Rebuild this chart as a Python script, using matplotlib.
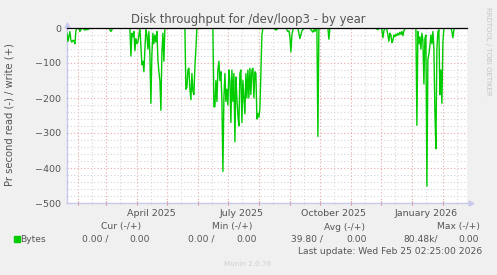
import numpy as np
import pandas as pd
import matplotlib
matplotlib.use("Agg")
import matplotlib.pyplot as plt
import matplotlib.dates as mdates
from matplotlib.transforms import blended_transform_factory

# day 0 = left edge of the graph, values are bytes/s read (drawn negative)
t0 = pd.Timestamp("2025-01-21 02:25")
t1 = pd.Timestamp("2026-02-25 02:25")
n_days = 400

burst_a = (0, [-15, -38, -25, -10, -36, -40, -35, -37, -45, -8])
burst_b = (13, [-10, -5, 0, 0, -4, -6, -3, -5, -4, -3])
burst_c = (43, [-5, -10, -5])
burst_d = (64, [-80, -15, -25, -10, -65, -30, -45, -40, -20, 0, -50, -105, -95, -125, -60, -5, -20,
                -60, -10, -75, -215, -75, -15, -45, -20, -40, -10, -90, -125, -150, -235, -70, -15, -95])
burst_e = (119, [-175, -170, -120, -115, -175, -205, -130, -180, -190, -110, -60])
burst_f = (147, [-225, -225, -150, -210, -120, -95, -150, -125, -205, -410, -200, -130, -210, -175,
                 -220, -120, -150, -270, -120, -210, -130, -325, -140, -200, -250, -280, -130, -120,
                 -270, -150, -200, -245, -130, -200, -120, -200, -115, -190, -120, -115, -200, -125,
                 -130, -260, -245, -255, -230, -120, -20])
burst_g = (208, [-3, -6, -4])
burst_h = (220, [-5, -10, -8, -25, -68, -20, -5])
burst_i = (232, [-15, -30, -20, -8, -5])
burst_j = (244, [-5, -8, -12, -5, -10])
burst_k = (251, [-310])
burst_l = (262, [-32])
burst_m = (310, [-3, -5, 0, 0, 0, -5, -28, -8, 0, 0, -5, -20, -38, -15, -20, -42, -35, -20, -25, -18,
                 -22, -15, -20, -12, -18, -10, -22, -8, -3])
burst_n = (350, [-278, -10, -45, -25, -60, -15, -35, -160, -30, -20, -452, -90, -75, -50, -20, -45,
                 -10, -60, -240, -345, -60, -10, -5, -190, -120, -215, -40])
burst_o = (385, [-10, -28, -5])

month_labels = ["April 2025", "July 2025", "October 2025", "January 2026"]
month_label_dates = ["2025-04-15", "2025-07-15", "2025-10-15", "2026-01-15"]

read = np.zeros(n_days)
for start, vals in [burst_a, burst_b, burst_c, burst_d, burst_e, burst_f, burst_g, burst_h,
                    burst_i, burst_j, burst_k, burst_l, burst_m, burst_n, burst_o]:
    read[start:start + len(vals)] = vals
days = pd.date_range(t0.normalize(), periods=n_days, freq="D")

W, H = 497, 275
bg = "#f0f0f0"
txt = "#555555"
fig = plt.figure(figsize=(W / 100, H / 100), dpi=100, facecolor=bg)


def fx(x):
    return x / W


def fy(y):
    return 1 - y / H


ax = fig.add_axes([fx(67), fy(203), fx(400), 175 / H])
ax.set_facecolor("white")

ax.plot(days, read, color="#00cc00", lw=1.0, zorder=3)
ax.axhline(0, color="black", lw=0.9, zorder=4, clip_on=False)

ax.set_xlim(t0, t1)
ax.set_ylim(-500, 0)

ax.xaxis.set_major_locator(mdates.MonthLocator(bymonthday=1))
ax.xaxis.set_minor_locator(mdates.MonthLocator(bymonthday=15))
ax.xaxis.set_major_formatter(plt.NullFormatter())
ax.set_yticks([0, -100, -200, -300, -400, -500])
ax.set_yticks(np.arange(-500, 1, 20), minor=True)

ax.grid(which="major", color="#eaa8a8", lw=0.8, linestyle=(0, (1, 2)))
ax.grid(which="minor", color="#d6d6d6", lw=0.8, linestyle=(0, (1, 2)))
ax.set_axisbelow(True)

ax.tick_params(axis="x", which="major", length=3, color="#e08080", direction="inout")
ax.tick_params(axis="x", which="minor", length=2, color="#c8c8c8", direction="inout")
ax.tick_params(axis="y", which="both", length=2, color="#c8c8e8", direction="inout",
               labelsize=6.8, labelcolor=txt, pad=3)

for s in ["top", "right"]:
    ax.spines[s].set_visible(False)
for s in ["left", "bottom"]:
    ax.spines[s].set_color("#c8c8ec")
    ax.spines[s].set_linewidth(1.0)

# axis arrows
ax.plot([0], [1.02], marker="^", ms=3.5, color="#c8c8ec", transform=ax.transAxes, clip_on=False)
ax.plot([1.01], [0], marker=">", ms=3.5, color="#c8c8ec", transform=ax.transAxes, clip_on=False)

tr = blended_transform_factory(ax.transData, fig.transFigure)
for lab, d in zip(month_labels, month_label_dates):
    ax.text(pd.Timestamp(d), fy(213), lab, transform=tr, ha="center", va="center",
            fontsize=6.8, color=txt)

fig.text(0.5, fy(19), "Disk throughput for /dev/loop3 - by year", ha="center", va="center",
         fontsize=8.4, color=txt)
fig.text(fx(10), fy(115), "Pr second read (-) / write (+)", rotation=90, ha="center",
         va="center", fontsize=7.2, color=txt)
fig.text(fx(488), fy(51), "RRDTOOL / TOBI OETIKER", rotation=-90, ha="center", va="center",
         fontsize=5.0, color="#c4c4c4")

# legend block
fs = 6.6
for x, s in [(141, "Cur (-/+)"), (252, "Min (-/+)"), (365, "Avg (-/+)"), (480, "Max (-/+)")]:
    fig.text(fx(x), fy(227), s, ha="right", va="center", fontsize=fs, color=txt)
fig.patches.append(plt.Rectangle((fx(14), fy(242)), fx(6), 6 / H, color="#00cc00",
                                 transform=fig.transFigure, figure=fig))
fig.text(fx(20), fy(239), "Bytes", ha="left", va="center", fontsize=fs, color=txt)
for x, s in [(108, "0.00 /"), (150, "0.00"), (215, "0.00 /"), (257, "0.00"),
             (323, "39.80 /"), (367, "0.00"), (438, "80.48k/"), (479, "0.00")]:
    fig.text(fx(x), fy(239), s, ha="right", va="center", fontsize=fs, color=txt)
fig.text(fx(482), fy(251), "Last update: Wed Feb 25 02:25:00 2026", ha="right", va="center",
         fontsize=fs, color=txt)
fig.text(fx(248), fy(264), "Munin 2.0.76", ha="center", va="center", fontsize=5.2,
         color="#cfcfcf")

fig.savefig("out.png", dpi=100, facecolor=bg)
